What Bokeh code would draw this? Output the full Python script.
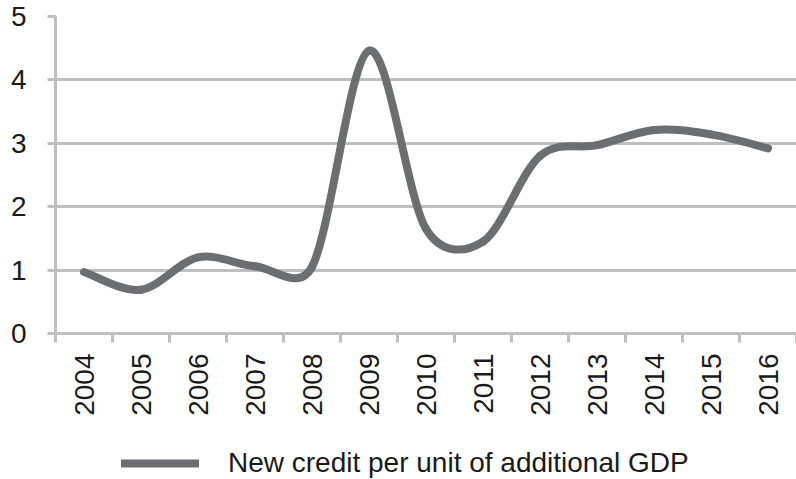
import numpy as np
from bokeh.plotting import figure
from bokeh.layouts import column
from bokeh.models import (Range1d, FixedTicker, Legend, LegendItem, ColumnDataSource)
from bokeh.embed import file_html
from bokeh.resources import INLINE

# ---- data ----
years = ["2004", "2005", "2006", "2007", "2008", "2009", "2010",
         "2011", "2012", "2013", "2014", "2015", "2016"]
credit_per_gdp = [0.97, 0.69, 1.20, 1.06, 1.05, 4.46, 1.65,
                  1.45, 2.80, 2.97, 3.21, 3.14, 2.92]
y_ticks = [0, 1, 2, 3, 4, 5]
series_name = "New credit per unit of additional GDP"

FONT = "Liberation Sans"
GRID = "#bfbfbf"
LINE = "#6d6e71"
TXT = "#1a1a1a"

n = len(years)
centers = [i + 0.5 for i in range(n)]
bounds = list(range(n + 1))

p = figure(width=796, height=420, output_backend="svg", toolbar_location=None,
           x_range=Range1d(0, n), y_range=Range1d(0, 5),
           min_border_left=55, min_border_top=16, min_border_right=0,
           min_border_bottom=87)
p.outline_line_color = None
p.xgrid.visible = False
p.ygrid.ticker = FixedTicker(ticks=y_ticks)
p.ygrid.grid_line_color = GRID
p.ygrid.grid_line_width = 3

# y axis
ya = p.yaxis[0]
ya.ticker = FixedTicker(ticks=y_ticks)
ya.axis_line_color = GRID
ya.axis_line_width = 3
ya.major_tick_line_color = GRID
ya.major_tick_line_width = 3
ya.major_tick_out = 8
ya.major_tick_in = 0
ya.minor_tick_line_color = None
ya.major_label_standoff = 21
ya.major_label_text_font = FONT
ya.major_label_text_font_size = "28px"
ya.major_label_text_color = TXT

# x axis
xa = p.xaxis[0]
xa.ticker = FixedTicker(ticks=centers, minor_ticks=bounds)
xa.major_label_overrides = {c: y for c, y in zip(centers, years)}
xa.axis_line_color = GRID
xa.axis_line_width = 3
xa.major_tick_line_color = None
xa.major_tick_out = 0
xa.major_tick_in = 0
xa.minor_tick_line_color = GRID
xa.minor_tick_line_width = 3
xa.minor_tick_out = 9
xa.minor_tick_in = 0
xa.major_label_orientation = np.pi / 2
xa.major_label_standoff = 11
xa.major_label_text_font = FONT
xa.major_label_text_font_size = "28px"
xa.major_label_text_color = TXT

# ---- smoothed line (Excel-like cardinal Bezier through the data points) ----
SX, SY = 57.0, 63.3
xs = np.array(centers)
ys = np.array(credit_per_gdp)
px, py = xs * SX, ys * SY
prev = np.concatenate([[0], np.arange(n - 1)])
nxt = np.concatenate([np.arange(1, n), [n - 1]])
tx, ty = px[nxt] - px[prev], py[nxt] - py[prev]
dt = np.hypot(tx, ty)
seg = np.hypot(np.diff(px), np.diff(py))
f0 = np.minimum(1 / 6, 0.5 * seg / dt[:-1])
f1 = np.minimum(1 / 6, 0.5 * seg / dt[1:])
c0x = (px[:-1] + f0 * tx[:-1]) / SX
c0y = (py[:-1] + f0 * ty[:-1]) / SY
c1x = (px[1:] - f1 * tx[1:]) / SX
c1y = (py[1:] - f1 * ty[1:]) / SY

src = ColumnDataSource(dict(x0=xs[:-1], y0=ys[:-1], x1=xs[1:], y1=ys[1:],
                            cx0=c0x, cy0=c0y, cx1=c1x, cy1=c1y))
p.bezier(x0="x0", y0="y0", x1="x1", y1="y1", cx0="cx0", cy0="cy0",
         cx1="cx1", cy1="cy1", source=src, line_color=LINE, line_width=8,
         line_cap="round")

# ---- legend strip below the chart ----
lg = figure(width=796, height=59, output_backend="svg", toolbar_location=None,
            x_axis_type=None, y_axis_type=None,
            x_range=Range1d(0, 1), y_range=Range1d(0, 1),
            min_border=0)
lg.outline_line_color = None
# proxy renderer kept outside the visible range; it only supplies the legend swatch
proxy = lg.line(x=[0, 1], y=[-2, -2], line_color=LINE, line_width=8,
                line_cap="round")
legend = Legend(items=[LegendItem(label=series_name, renderers=[proxy])],
                location=(66, 0), orientation="horizontal",
                border_line_color=None, background_fill_alpha=0,
                glyph_width=78, glyph_height=20, label_standoff=29,
                label_height=30, padding=0, margin=0,
                label_text_font=FONT, label_text_font_size="28px",
                label_text_color=TXT)
lg.add_layout(legend)

layout = column(p, lg, spacing=0)
open("out.html", "w").write(file_html(layout, INLINE))
